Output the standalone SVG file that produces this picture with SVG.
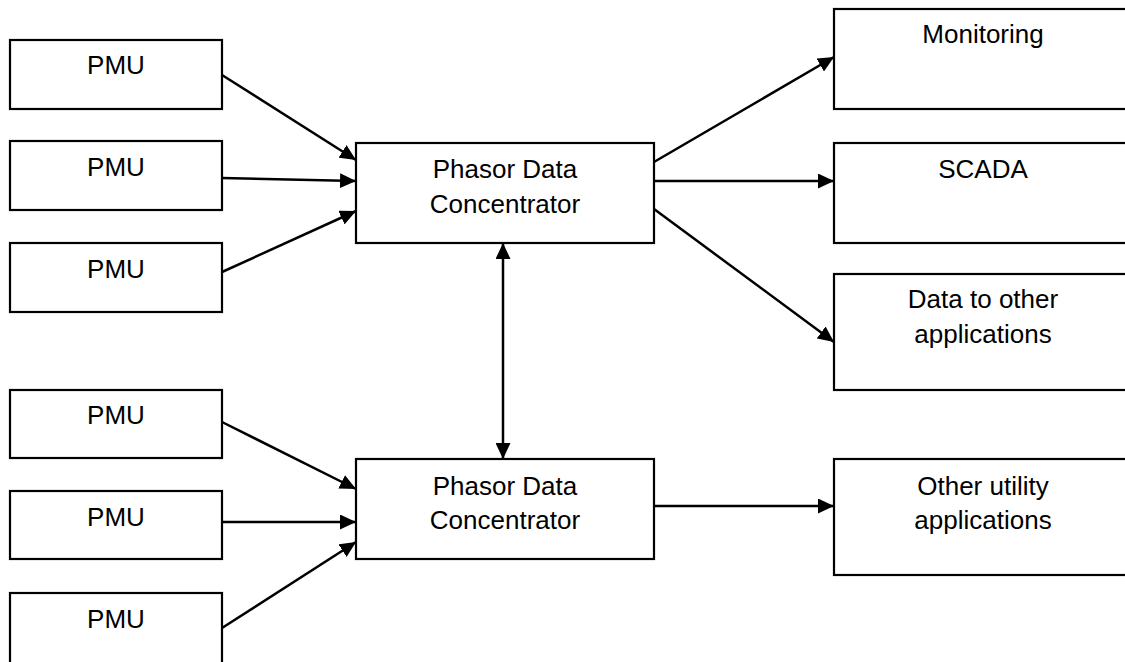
<svg xmlns="http://www.w3.org/2000/svg" width="1125" height="662" viewBox="0 0 1125 662">
  <style>
    .box { fill: #ffffff; stroke: #000000; stroke-width: 2.2; }
    .lbl { font-family: "Liberation Sans", Arial, sans-serif; font-size: 26px; fill: #000000; text-anchor: middle; }
    .wire { stroke: #000000; stroke-width: 2.5; fill: none; }
  </style>
  <defs>
    <marker id="head" markerUnits="userSpaceOnUse" markerWidth="17" markerHeight="15" refX="16" refY="7.5" orient="auto-start-reverse">
      <path d="M0,0 L16,7.5 L0,15 z" fill="#000000"/>
    </marker>
  </defs>
  <rect width="1125" height="662" fill="#ffffff"/>

  <!-- PMU sources, upper group -->
  <g id="pmu1"><rect class="box" x="10" y="40" width="212" height="69"/><text class="lbl" x="116" y="74">PMU</text></g>
  <g id="pmu2"><rect class="box" x="10" y="141" width="212" height="69"/><text class="lbl" x="116" y="176">PMU</text></g>
  <g id="pmu3"><rect class="box" x="10" y="243" width="212" height="69"/><text class="lbl" x="116" y="278">PMU</text></g>

  <!-- PMU sources, lower group -->
  <g id="pmu4"><rect class="box" x="10" y="390" width="212" height="68"/><text class="lbl" x="116" y="424">PMU</text></g>
  <g id="pmu5"><rect class="box" x="10" y="491" width="212" height="68"/><text class="lbl" x="116" y="526">PMU</text></g>
  <g id="pmu6"><rect class="box" x="10" y="593" width="212" height="80"/><text class="lbl" x="116" y="628">PMU</text></g>

  <!-- Concentrators -->
  <g id="pdc1"><rect class="box" x="356" y="143" width="298" height="100"/>
    <text class="lbl" x="505" y="178">Phasor Data</text><text class="lbl" x="505" y="213">Concentrator</text></g>
  <g id="pdc2"><rect class="box" x="356" y="459" width="298" height="100"/>
    <text class="lbl" x="505" y="495">Phasor Data</text><text class="lbl" x="505" y="529">Concentrator</text></g>

  <!-- Consumers -->
  <g id="monitoring"><rect class="box" x="834" y="9" width="310" height="100"/><text class="lbl" x="983" y="43">Monitoring</text></g>
  <g id="scada"><rect class="box" x="834" y="143" width="310" height="100"/><text class="lbl" x="983" y="178">SCADA</text></g>
  <g id="other-apps"><rect class="box" x="834" y="274" width="310" height="116"/>
    <text class="lbl" x="983" y="308">Data to other</text><text class="lbl" x="983" y="343">applications</text></g>
  <g id="utility-apps"><rect class="box" x="834" y="459" width="310" height="116"/>
    <text class="lbl" x="983" y="495">Other utility</text><text class="lbl" x="983" y="529">applications</text></g>

  <!-- Connectors -->
  <g id="connectors">
    <line class="wire" x1="222" y1="75" x2="356" y2="160" marker-end="url(#head)"/>
    <line class="wire" x1="222" y1="178" x2="356" y2="181" marker-end="url(#head)"/>
    <line class="wire" x1="222" y1="272" x2="356" y2="211" marker-end="url(#head)"/>
    <line class="wire" x1="222" y1="422" x2="356" y2="489" marker-end="url(#head)"/>
    <line class="wire" x1="222" y1="522" x2="356" y2="522" marker-end="url(#head)"/>
    <line class="wire" x1="222" y1="628" x2="356" y2="542" marker-end="url(#head)"/>
    <line class="wire" x1="654" y1="162" x2="834" y2="57" marker-end="url(#head)"/>
    <line class="wire" x1="654" y1="181" x2="834" y2="181" marker-end="url(#head)"/>
    <line class="wire" x1="654" y1="209" x2="834" y2="342" marker-end="url(#head)"/>
    <line class="wire" x1="654" y1="506" x2="834" y2="506" marker-end="url(#head)"/>
    <line class="wire" x1="503" y1="243" x2="503" y2="459" marker-start="url(#head)" marker-end="url(#head)"/>
  </g>
</svg>
